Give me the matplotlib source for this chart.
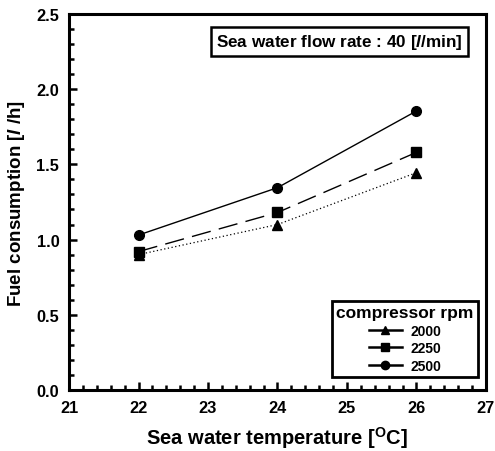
import matplotlib.pyplot as plt
from matplotlib.lines import Line2D
from matplotlib.ticker import MultipleLocator

plt.rcParams['font.family'] = ['Liberation Sans', 'DejaVu Sans']
plt.rcParams['font.weight'] = 'bold'
plt.rcParams['mathtext.fontset'] = 'custom'
plt.rcParams['mathtext.rm'] = 'Liberation Sans:bold'
plt.rcParams['mathtext.it'] = 'Liberation Sans:bold:italic'
plt.rcParams['mathtext.bf'] = 'Liberation Sans:bold'

# data
temps = [22, 24, 26]
rpm_labels = ['2000', '2250', '2500']
fuel_2000 = [0.90, 1.10, 1.445]
fuel_2250 = [0.92, 1.18, 1.58]
fuel_2500 = [1.03, 1.345, 1.855]

fig = plt.figure(figsize=(4.95, 4.52), dpi=100)
ax = fig.add_axes([0.1394, 0.135, 0.8424, 0.8319])

ax.plot(temps, fuel_2000, color='black', lw=0.9, ls=(0, (1, 2)), marker='^', ms=7)
ax.plot(temps, fuel_2250, color='black', lw=1.0, ls=(0, (14, 6)), marker='s', ms=7)
ax.plot(temps, fuel_2500, color='black', lw=1.0, ls='-', marker='o', ms=7)

ax.set_xlim(21, 27)
ax.set_ylim(0, 2.5)
ax.xaxis.set_major_locator(MultipleLocator(1))
ax.xaxis.set_minor_locator(MultipleLocator(0.2))
ax.yaxis.set_major_locator(MultipleLocator(0.5))
ax.yaxis.set_minor_locator(MultipleLocator(0.1))
ax.tick_params(which='both', direction='in', width=1.8)
ax.tick_params(which='major', length=6, labelsize=11.8, pad=7)
ax.tick_params(which='minor', length=3.5)
ax.yaxis.set_major_formatter(plt.FormatStrFormatter('%.1f'))
for s in ax.spines.values():
    s.set_linewidth(2.2)

ax.set_xlabel('Sea water temperature [$^{\\mathrm{O}}$C]', fontsize=14.5, fontweight='bold', labelpad=7)
ax.set_ylabel('Fuel consumption [$\\mathit{l}$ /h]', fontsize=13.5, fontweight='bold', labelpad=7)

ax.text(0.945, 0.926, 'Sea water flow rate : 40 [$\\mathit{l}$/min]', transform=ax.transAxes,
        ha='right', va='center', fontsize=12.3, fontweight='bold',
        bbox=dict(boxstyle='square,pad=0.3', fc='white', ec='black', lw=1.8))

# legend uses plain solid lines, as in the original figure
handles = [Line2D([], [], color='black', lw=1.8, marker=m, ms=6) for m in ['^', 's', 'o']]
leg = ax.legend(handles, rpm_labels, title='compressor rpm', loc='lower right',
                bbox_to_anchor=(0.98, 0.035), handlelength=2.4, handletextpad=0.6,
                fontsize=10, title_fontproperties={'weight': 'bold', 'size': 12.5},
                fancybox=False, edgecolor='black', framealpha=1,
                borderpad=0.3, labelspacing=0.25, borderaxespad=0)
leg.get_frame().set_linewidth(2)
for t in leg.get_texts():
    t.set_fontweight('bold')

fig.savefig('out.png', dpi=100)
